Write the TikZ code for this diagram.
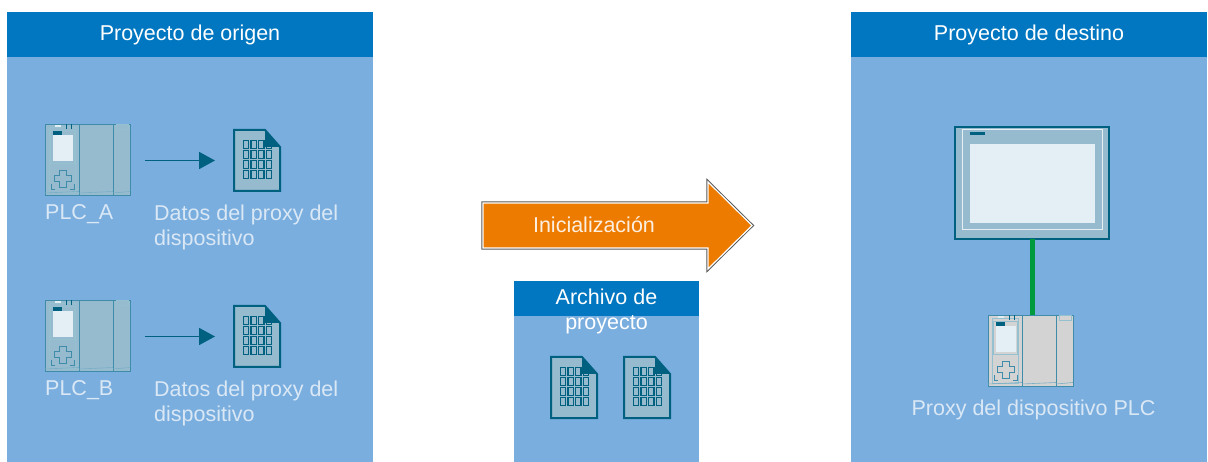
\documentclass[tikz,border=0pt]{standalone}
\usepackage{fontspec}
\setmainfont{Liberation Sans}
\usetikzlibrary{positioning,arrows.meta}

\definecolor{headblue}{RGB}{0,119,192}
\definecolor{bodyblue}{RGB}{122,174,222}
\definecolor{labeltext}{RGB}{218,232,246}
\definecolor{darkteal}{RGB}{0,96,128}
\definecolor{docfill}{RGB}{150,187,207}
\definecolor{plcline}{RGB}{62,140,170}
\definecolor{plcgray}{RGB}{211,211,211}
\definecolor{screenwhite}{RGB}{228,239,245}
\definecolor{initorange}{RGB}{236,123,0}
\definecolor{linkgreen}{RGB}{0,154,62}

\tikzset{
  plc fill/.store in=\plcfill, plc fill=docfill,
  pics/plc/.style={code={
    \node[inner sep=0, outer sep=0, minimum width=85, minimum height=71, anchor=north west] (-box) at (0,0) {};
    \filldraw[fill=\plcfill, draw=plcline, line width=.8] (0,0) rectangle (85,71);
    \draw[plcline, line width=.8] (34,0) -- (34,71) (68,0) -- (68,71);
    \draw[plcline!55, line width=.6] (4,3.5) rectangle (30,68) (5.7,6.3) rectangle (29.3,39) (71,.5) rectangle (83,5.5);
    \fill[screenwhite] (7.7,11.3) rectangle (28.3,37.3);
    \fill[darkteal] (8,7.3) rectangle (17.3,10.7);
    \fill[white!85!plcline] (10,.6) rectangle (16,3);
    \draw[darkteal, line width=.8] (21.3,0) -- (21.3,5) (26,0) -- (26,5);
    \draw[plcline, line width=.7] (14,46.5) -- (21,46.5) -- (21,51.7) -- (26,51.7) -- (26,57.3) -- (21,57.3)
      -- (21,63) -- (14,63) -- (14,57.3) -- (9,57.3) -- (9,51.7) -- (14,51.7) -- cycle;
    \draw[plcline, line width=.7] (6,60) -- (6,65.5) -- (10,65.5) (29,60) -- (29,65.5) -- (25,65.5);
    \draw[plcline!70, line width=.6] (0,69) -- (34,67.5) (34,69) -- (68,67.5) (68,69) -- (85,67.5);
  }},
  pics/doc/.style={code={
    \node[inner sep=0, outer sep=0, minimum width=46, minimum height=61, anchor=north west] (-box) at (0,0) {};
    \filldraw[fill=docfill, draw=darkteal, line width=2, line join=miter] (0,0) -- (31,0) -- (46,17) -- (46,61) -- (0,61) -- cycle;
    \foreach \i in {0,...,3}
      \foreach \j in {0,...,3}
        \draw[darkteal, line width=1.1] (9.3+7.7*\i,10.7+10*\j) rectangle ++(5.3,8);
    \fill[darkteal] (31,0) -- (46,17) -- (31,17) -- cycle;
  }}
}

\begin{document}
\begin{tikzpicture}[x=1pt,y=-1pt,
  panel/.style={fill=bodyblue, inner sep=0, outer sep=0, anchor=north west},
  head/.style={fill=headblue, text=white, inner sep=0, outer sep=0, anchor=south west,
    font=\fontsize{21.5}{25.5}\selectfont, text height=17pt, text depth=4pt},
  lbl/.style={text=labeltext, inner sep=0, align=left, font=\fontsize{21.5}{25.5}\selectfont},
  flow/.style={darkteal, line width=1.8, -{Triangle[length=16pt,width=17pt]}, shorten <=15pt, shorten >=19pt},
  link/.style={linkgreen, line width=5}]

  \useasboundingbox (0,0) rectangle (1208,462);

  \node[panel, minimum width=366, minimum height=405] (srcBody) at (7,57) {};
  \node[head, minimum width=366, minimum height=45] (srcHead) at (srcBody.north west) {Proyecto de origen};

  \node[panel, minimum width=185, minimum height=146] (archBody) at (514,316) {};
  \node[head, minimum width=185, minimum height=35] (archHead) at (archBody.north west) {};

  \node[panel, minimum width=356, minimum height=405] (dstBody) at (851,57) {};
  \node[head, minimum width=356, minimum height=45] (dstHead) at (dstBody.north west) {Proyecto de destino};

  % source project
  \pic (plcA) at (45,124) {plc};
  \pic (docA) at (234,130) {doc};
  \draw[flow] (plcA-box.east |- docA-box.west) -- (docA-box.west);
  \node[lbl, below right=9.5pt and 0pt of plcA-box.south west] (lblA) {PLC\_A};
  \node[lbl, below right=9.5pt and 24pt of plcA-box.south east] (datosA) {Datos del proxy del\\dispositivo};

  \pic (plcB) at (45,300) {plc};
  \pic (docB) at (234,306) {doc};
  \draw[flow] (plcB-box.east |- docB-box.west) -- (docB-box.west);
  \node[lbl, below right=9.5pt and 0pt of plcB-box.south west] (lblB) {PLC\_B};
  \node[lbl, below right=9.5pt and 24pt of plcB-box.south east] (datosB) {Datos del proxy del\\dispositivo};

  % initialization arrow
  \path[draw=white, line width=1.2, fill=initorange, line join=miter,
    preaction={draw=black!65, line width=3.2}]
    (483,203) -- (708,203) -- (708,182) -- (752,225.5) -- (708,269) -- (708,248) -- (483,248) -- cycle;
  \node[text=white!88!initorange, inner sep=0, font=\fontsize{21.5}{25.5}\selectfont,
    text height=15.5pt, text depth=4.5pt] (init) at (594,227.2) {Inicialización};

  % project archive
  \node[text=white, inner sep=0, align=center, font=\fontsize{21.5}{25.5}\selectfont,
    below=7.5pt of archHead.north] (archLbl) {Archivo de\\proyecto};
  \pic (arch1) at (551,357) {doc};
  \pic (arch2) at (624,357) {doc};

  % target project
  \node[draw=darkteal, line width=2, fill=docfill, minimum width=154, minimum height=112,
    inner sep=0, outer sep=0, anchor=north west] (hmi) at (955,127) {};
  \draw[white!75!docfill, line width=1] ([shift={(7,3)}]hmi.north west) rectangle ([shift={(-7,-9)}]hmi.south east);
  \fill[screenwhite] ([shift={(15,17)}]hmi.north west) rectangle ([shift={(-14,-16)}]hmi.south east);
  \fill[darkteal] ([shift={(15,5.5)}]hmi.north west) rectangle ++(15,3);

  \pic[plc fill=plcgray] (proxy) at (988,315) {plc};
  \draw[link] (hmi.south) -- (hmi.south |- proxy-box.north);
  \node[lbl, below=13.5pt of proxy-box.south, xshift=3pt] (proxyLbl) {Proxy del dispositivo PLC};

\end{tikzpicture}
\end{document}
